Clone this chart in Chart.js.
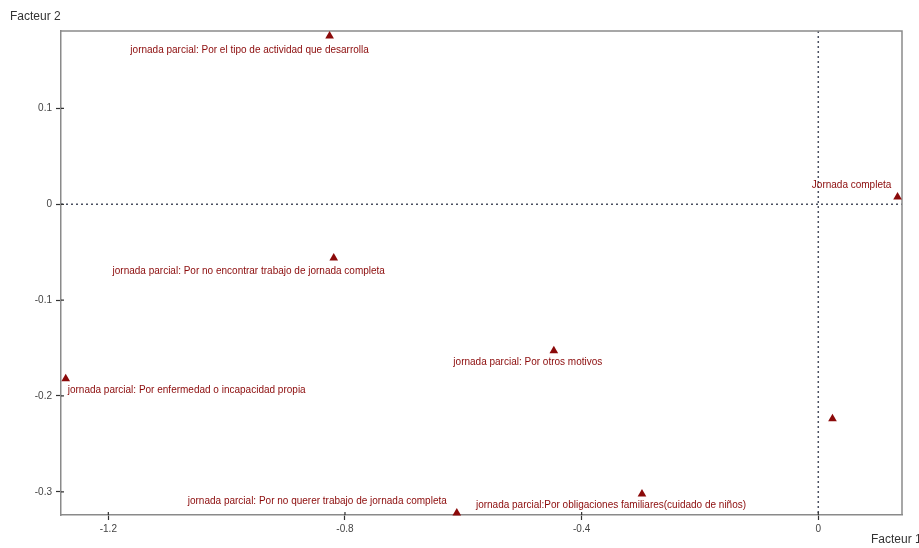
<!DOCTYPE html>
<html>
<head>
<meta charset="utf-8">
<script src="https://cdn.jsdelivr.net/npm/chart.js@4.4.1/dist/chart.umd.min.js"></script>
<style>
  html, body { margin: 0; padding: 0; background: #fff; }
  #wrap { width: 919px; height: 548px; }
</style>
</head>
<body>
<div id="wrap"><canvas id="afc"></canvas></div>
<script>
// ===== Data =====
const modalities = [
    'jornada parcial: Por el tipo de actividad que desarrolla',
    'Jornada completa',
    'jornada parcial: Por no encontrar trabajo de jornada completa',
    'jornada parcial: Por otros motivos',
    'jornada parcial: Por enfermedad o incapacidad propia',
    '',
    'jornada parcial: Por no querer trabajo de jornada completa',
    'jornada parcial:Por obligaciones familiares(cuidado de niños)'
];
const factor1 = [-0.826, 0.134, -0.819, -0.447, -1.272, 0.024, -0.611, -0.298];
const factor2 = [0.1756, 0.0076, -0.056, -0.1527, -0.182, -0.2237, -0.3221, -0.3023];

const xTicks = [-1.2, -0.8, -0.4, 0];
const xTickLabels = ['-1.2', '-0.8', '-0.4', '0'];
const yTicks = [-0.3, -0.2, -0.1, 0, 0.1];
const yTickLabels = ['-0.3', '-0.2', '-0.1', '0', '0.1'];

// ===== Label placement (pixels, relative to the point) =====
const labelPlacement = [
    { dx: -80, dy: 14, align: 'center' },
    { dx: -46, dy: -12, align: 'center' },
    { dx: -85, dy: 13, align: 'center' },
    { dx: -26, dy: 12, align: 'center' },
    { dx: 2, dy: 12, align: 'left' },
    { dx: 0, dy: 0, align: 'center' },
    { dx: -10, dy: -12, align: 'right' },
    { dx: -31, dy: 11, align: 'center' }
];

const RED = '#8b0a0a';
const AXIS = '#8a8a8a';
const TXT = '#444';
const FONT = '"Liberation Sans", Arial, sans-serif';

// ===== Plugin: frame, zero lines, inner ticks, labels, axis titles =====
const afcDecor = {
    id: 'afcDecor',
    beforeDatasetsDraw(chart) {
        const { ctx, chartArea: a, scales: { x, y } } = chart;
        ctx.save();
        // dotted origin lines
        ctx.strokeStyle = '#4a5060';
        ctx.lineWidth = 1.5;
        ctx.setLineDash([2, 3]);
        const x0 = x.getPixelForValue(0);
        const y0 = y.getPixelForValue(0);
        ctx.beginPath();
        ctx.moveTo(x0, a.top); ctx.lineTo(x0, a.bottom);
        ctx.moveTo(a.left, y0); ctx.lineTo(a.right, y0);
        ctx.stroke();
        ctx.setLineDash([]);
        // top + right frame
        ctx.strokeStyle = AXIS;
        ctx.lineWidth = 1.5;
        ctx.beginPath();
        ctx.moveTo(a.left, a.top); ctx.lineTo(a.right, a.top); ctx.lineTo(a.right, a.bottom);
        ctx.stroke();
        // tick marks poking inside the frame
        ctx.strokeStyle = '#333';
        ctx.lineWidth = 1.2;
        ctx.beginPath();
        xTicks.forEach(v => {
            const px = x.getPixelForValue(v);
            ctx.moveTo(px, a.bottom); ctx.lineTo(px, a.bottom - 3);
        });
        yTicks.forEach(v => {
            const py = y.getPixelForValue(v);
            ctx.moveTo(a.left, py); ctx.lineTo(a.left + 3, py);
        });
        ctx.stroke();
        ctx.restore();
    },
    afterDatasetsDraw(chart) {
        const { ctx, chartArea: a } = chart;
        const meta = chart.getDatasetMeta(0);
        ctx.save();
        ctx.font = '10px ' + FONT;
        ctx.fillStyle = RED;
        ctx.textBaseline = 'middle';
        meta.data.forEach((pt, i) => {
            if (!modalities[i]) return;
            const p = labelPlacement[i];
            ctx.textAlign = p.align;
            ctx.fillText(modalities[i], pt.x + p.dx, pt.y + p.dy);
        });
        // axis titles
        ctx.fillStyle = '#333';
        ctx.font = '12px ' + FONT;
        ctx.textAlign = 'left';
        ctx.fillText('Facteur 2', 10, 17);
        ctx.fillText('Facteur 1', a.right - 31, 540);
        ctx.restore();
    }
};

const afcChart = new Chart(document.getElementById('afc').getContext('2d'), {
    type: 'scatter',
    data: {
        datasets: [{
            data: factor1.map((v, i) => ({ x: v, y: factor2[i] })),
            pointStyle: 'triangle',
            pointRadius: 5,
            backgroundColor: RED,
            borderColor: RED,
            borderWidth: 0,
            clip: false
        }]
    },
    options: {
        responsive: true,
        maintainAspectRatio: false,
        animation: false,
        layout: { padding: { top: 31, right: 17, left: 0, bottom: 0 } },
        plugins: { legend: { display: false }, tooltip: { enabled: false } },
        scales: {
            x: {
                type: 'linear',
                min: -1.280,
                max: 0.1415,
                afterBuildTicks: s => { s.ticks = xTicks.map(v => ({ value: v })); },
                afterFit: s => { s.height = 33; },
                ticks: {
                    color: TXT,
                    font: { size: 10, family: FONT },
                    padding: 3,
                    maxRotation: 0,
                    callback: (v) => xTickLabels[xTicks.indexOf(v)] ?? ''
                },
                grid: { drawOnChartArea: false, drawTicks: true, tickLength: 5, tickColor: '#333', tickWidth: 1.2 },
                border: { display: true, color: AXIS, width: 1.5 }
            },
            y: {
                type: 'linear',
                min: -0.3242,
                max: 0.1808,
                afterBuildTicks: s => { s.ticks = yTicks.map(v => ({ value: v })); },
                afterFit: s => { s.width = 61; },
                ticks: {
                    color: TXT,
                    font: { size: 10, family: FONT },
                    padding: 4,
                    callback: (v) => yTickLabels[yTicks.indexOf(v)] ?? ''
                },
                grid: { drawOnChartArea: false, drawTicks: true, tickLength: 5, tickColor: '#333', tickWidth: 1.2 },
                border: { display: true, color: AXIS, width: 1.5 }
            }
        }
    },
    plugins: [afcDecor]
});
</script>
</body>
</html>
